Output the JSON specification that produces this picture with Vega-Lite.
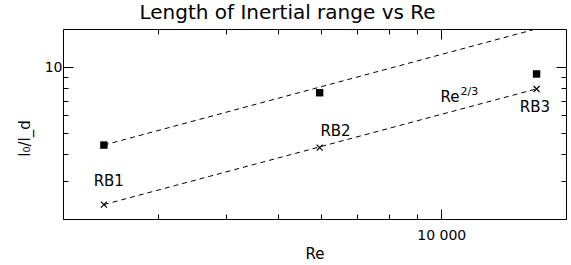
{
  "$schema": "https://vega.github.io/schema/vega-lite/v6.json",
  "width": 503,
  "height": 190,
  "autosize": {"type": "none"},
  "padding": {"left": 63, "top": 29, "right": 5, "bottom": 46},
  "background": "white",
  "config": {
    "view": {"stroke": "black", "strokeWidth": 1},
    "font": "DejaVu Sans",
    "text": {"font": "DejaVu Sans", "fontWeight": "normal", "color": "black"},
    "axis": {
      "domain": false, "grid": false,
      "tickColor": "black", "tickWidth": 1,
      "labelFont": "DejaVu Sans", "labelFontSize": 14, "labelFontWeight": "normal", "labelColor": "black",
      "titleFont": "DejaVu Sans", "titleFontWeight": "normal", "titleColor": "black",
      "labelOverlap": false, "labelFlush": false
    }
  },
  "title": {
    "text": "Length of Inertial range vs Re",
    "fontSize": 20, "fontWeight": "normal", "font": "DejaVu Sans", "color": "black",
    "anchor": "middle", "frame": "group", "dx": -27, "offset": -14, "baseline": "bottom"
  },
  "datasets": {
    "points": [
      {"run": "RB1", "Re": 2380, "ratio": 4.38, "kind": "square"},
      {"run": "RB2", "Re": 5960, "ratio": 7.63, "kind": "square"},
      {"run": "RB3", "Re": 15000, "ratio": 9.31, "kind": "square"},
      {"run": "RB1", "Re": 2380, "ratio": 2.33, "kind": "cross"},
      {"run": "RB2", "Re": 5960, "ratio": 4.26, "kind": "cross"},
      {"run": "RB3", "Re": 15000, "ratio": 7.94, "kind": "cross"}
    ],
    "lines": [
      {"line": "upper", "Re": 2380, "ratio": 4.38},
      {"line": "upper", "Re": 14760, "ratio": 14.86},
      {"line": "lower", "Re": 2380, "ratio": 2.33},
      {"line": "lower", "Re": 15000, "ratio": 7.95}
    ],
    "labels": [
      {"label": "RB1", "Re": 2430, "ratio": 2.99},
      {"label": "RB2", "Re": 6376, "ratio": 5.11},
      {"label": "RB3", "Re": 14890, "ratio": 6.57}
    ],
    "law": [
      {"base": "Re", "exp": "2/3", "Re": 10810, "ratio": 7.32}
    ]
  },
  "layer": [
    {
      "data": {"name": "lines"},
      "mark": {"type": "line", "color": "black", "strokeWidth": 1, "strokeDash": [5, 4], "clip": true},
      "encoding": {
        "x": {
          "field": "Re", "type": "quantitative",
          "scale": {"type": "log", "domain": [2000, 17000], "nice": false},
          "axis": {
            "orient": "bottom", "title": "Re", "titleFontSize": 15,
            "titleBaseline": "top", "titleY": 27,
            "values": [2000, 3000, 4000, 5000, 6000, 7000, 8000, 9000, 10000],
            "labelExpr": "datum.value == 10000 ? '10 000' : ''",
            "tickSize": {"condition": {"test": "datum.value == 10000", "value": -10}, "value": -5},
            "labelPadding": 19
          }
        },
        "y": {
          "field": "ratio", "type": "quantitative",
          "scale": {"type": "log", "domain": [2, 15], "nice": false},
          "axis": {
            "orient": "left", "title": "l₀/l_d", "titleFontSize": 15,
            "titleAngle": 270, "titleX": -39, "titleY": 109, "titleAlign": "center", "titleBaseline": "middle",
            "values": [2, 3, 4, 5, 6, 7, 8, 9, 10],
            "labelExpr": "datum.value == 10 ? '10' : ''",
            "tickSize": {"condition": {"test": "datum.value == 10", "value": -10}, "value": -5},
            "labelPadding": 11
          }
        },
        "detail": {"field": "line"}
      }
    },
    {
      "data": {"name": "points"},
      "transform": [{"filter": "datum.kind == 'square'"}],
      "mark": {"type": "square", "color": "black", "filled": true, "opacity": 1, "size": 55},
      "encoding": {
        "x": {"field": "Re", "type": "quantitative", "axis": null},
        "y": {"field": "ratio", "type": "quantitative", "axis": null}
      }
    },
    {
      "data": {"name": "points"},
      "transform": [{"filter": "datum.kind == 'cross'"}],
      "mark": {"type": "point", "shape": "M-1,-1L1,1M-1,1L1,-1", "color": "black", "filled": false, "opacity": 1, "strokeWidth": 1.2, "size": 36},
      "encoding": {
        "x": {"field": "Re", "type": "quantitative", "axis": null},
        "y": {"field": "ratio", "type": "quantitative", "axis": null}
      }
    },
    {
      "data": {"name": "labels"},
      "mark": {"type": "text", "fontSize": 15, "align": "center", "baseline": "middle", "color": "black"},
      "encoding": {
        "x": {"field": "Re", "type": "quantitative", "axis": null},
        "y": {"field": "ratio", "type": "quantitative", "axis": null},
        "text": {"field": "label"}
      }
    },
    {
      "data": {"name": "law"},
      "mark": {"type": "text", "fontSize": 15, "align": "right", "baseline": "middle", "color": "black"},
      "encoding": {
        "x": {"field": "Re", "type": "quantitative", "axis": null},
        "y": {"field": "ratio", "type": "quantitative", "axis": null},
        "text": {"field": "base"}
      }
    },
    {
      "data": {"name": "law"},
      "mark": {"type": "text", "fontSize": 11, "align": "left", "baseline": "middle", "dx": 1, "dy": -5, "color": "black"},
      "encoding": {
        "x": {"field": "Re", "type": "quantitative", "axis": null},
        "y": {"field": "ratio", "type": "quantitative", "axis": null},
        "text": {"field": "exp"}
      }
    },
    {
      "data": {"name": "points"},
      "mark": {"type": "point", "opacity": 0},
      "encoding": {
        "x": {
          "field": "Re", "type": "quantitative",
          "axis": {
            "orient": "top", "title": null, "labels": false,
            "values": [2000, 3000, 4000, 5000, 6000, 7000, 8000, 9000, 10000],
            "tickSize": {"condition": {"test": "datum.value == 10000", "value": -10}, "value": -5}
          }
        },
        "y": {
          "field": "ratio", "type": "quantitative",
          "axis": {
            "orient": "right", "title": null, "labels": false,
            "values": [2, 3, 4, 5, 6, 7, 8, 9, 10],
            "tickSize": {"condition": {"test": "datum.value == 10", "value": -10}, "value": -5}
          }
        }
      }
    }
  ],
  "resolve": {"axis": {"x": "independent", "y": "independent"}}
}
